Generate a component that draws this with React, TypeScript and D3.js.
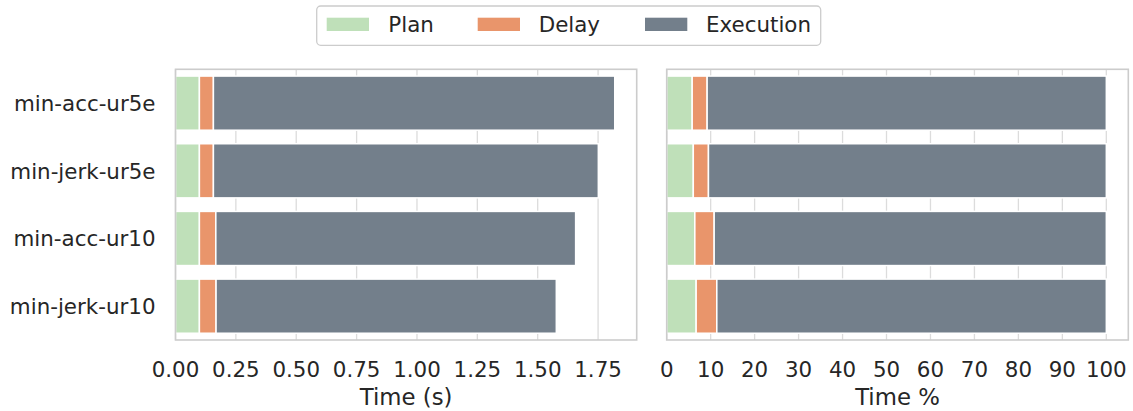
import React from "react";
import * as d3 from "d3";

const categories = ["min-acc-ur5e", "min-jerk-ur5e", "min-acc-ur10", "min-jerk-ur10"];
const seriesNames = ["Plan", "Delay", "Execution"];
const seriesColors = ["#bfe0b9", "#e9956b", "#737f8b"];

// absolute times (s)
const planTime = [0.099, 0.099, 0.099, 0.099];
const delayTime = [0.058, 0.058, 0.068, 0.069];
const execTime = [1.662, 1.594, 1.490, 1.409];

// percentages
const planPct = [5.8, 6.05, 6.4, 6.7];
const delayPct = [3.4, 3.45, 4.4, 4.7];
const execPct = [90.8, 90.5, 89.2, 88.6];

const leftTicks = [0, 0.25, 0.5, 0.75, 1.0, 1.25, 1.5, 1.75];
const rightTicks = [0, 10, 20, 30, 40, 50, 60, 70, 80, 90, 100];

const W = 1133;
const H = 411;
const top = 69.3;
const bottom = 340;
const FONT = "DejaVu Sans, sans-serif";
const FS = 21.4;
const LFS = 22.8;
const TEXT = "#262626";

function Panel({ x0, x1, series, ticks, fmt, label, showY }: any) {
  const totals = categories.map((_, i) => series.reduce((s: number, a: number[]) => s + a[i], 0));
  const maxT = d3.max(totals) as number;
  const x = d3.scaleLinear().domain([0, maxT * 1.05]).range([x0, x1]);
  const y = d3.scaleBand().domain(categories).range([top, bottom]).paddingInner(0.2).paddingOuter(0.1);
  const stackData = categories.map((c, i) => {
    let acc = 0;
    return series.map((arr: number[], k: number) => {
      const s = acc;
      acc += arr[i];
      return { c, k, s, e: acc };
    });
  });
  return (
    <g>
      {ticks.map((t: number) => (
        <line key={"g" + t} x1={x(t)} x2={x(t)} y1={top} y2={bottom} stroke="#dcdcdc" strokeWidth={1.3} />
      ))}
      {stackData.map((row, i) =>
        row.map((d: any) => (
          <rect
            key={i + "-" + d.k}
            x={x(d.s)}
            y={y(d.c)}
            width={x(d.e) - x(d.s)}
            height={y.bandwidth()}
            fill={seriesColors[d.k]}
            stroke="#ffffff"
            strokeWidth={1.5}
          />
        ))
      )}
      <rect x={x0} y={top} width={x1 - x0} height={bottom - top} fill="none" stroke="#cccccc" strokeWidth={1.6} />
      {ticks.map((t: number) => (
        <text key={"t" + t} x={x(t)} y={376.5} textAnchor="middle" fontFamily={FONT} fontSize={FS} fill={TEXT}>
          {fmt(t)}
        </text>
      ))}
      <text x={(x0 + x1) / 2} y={405} textAnchor="middle" fontFamily={FONT} fontSize={LFS} fill={TEXT}>
        {label}
      </text>
      {showY &&
        categories.map((c) => (
          <text
            key={c}
            x={155.5}
            y={(y(c) as number) + y.bandwidth() / 2 + FS * 0.36}
            textAnchor="end"
            fontFamily={FONT}
            fontSize={FS}
            fill={TEXT}
          >
            {c}
          </text>
        ))}
    </g>
  );
}

function Legend() {
  const items = [
    { px: 326.7, tx: 388.3 },
    { px: 477.7, tx: 538.7 },
    { px: 645, tx: 706 },
  ];
  return (
    <g>
      <rect x={316.7} y={6} width={504} height={39.3} rx={4} fill="#ffffff" stroke="#cccccc" strokeWidth={1.3} />
      {items.map((it, i) => (
        <g key={i}>
          <rect x={it.px} y={17.7} width={42.3} height={13.3} fill={seriesColors[i]} />
          <text x={it.tx} y={32.3} fontFamily={FONT} fontSize={FS} fill={TEXT}>
            {seriesNames[i]}
          </text>
        </g>
      ))}
    </g>
  );
}

export default function App() {
  return (
    <div style={{ position: "absolute", left: 0, top: 0 }}>
      <svg width={W} height={H} style={{ display: "block", background: "#ffffff" }}>
        <Panel
          x0={175.5}
          x1={636.7}
          series={[planTime, delayTime, execTime]}
          ticks={leftTicks}
          fmt={(t: number) => t.toFixed(2)}
          label="Time (s)"
          showY={true}
        />
        <Panel
          x0={666.7}
          x1={1128.3}
          series={[planPct, delayPct, execPct]}
          ticks={rightTicks}
          fmt={(t: number) => String(t)}
          label="Time %"
          showY={false}
        />
        <Legend />
      </svg>
    </div>
  );
}
